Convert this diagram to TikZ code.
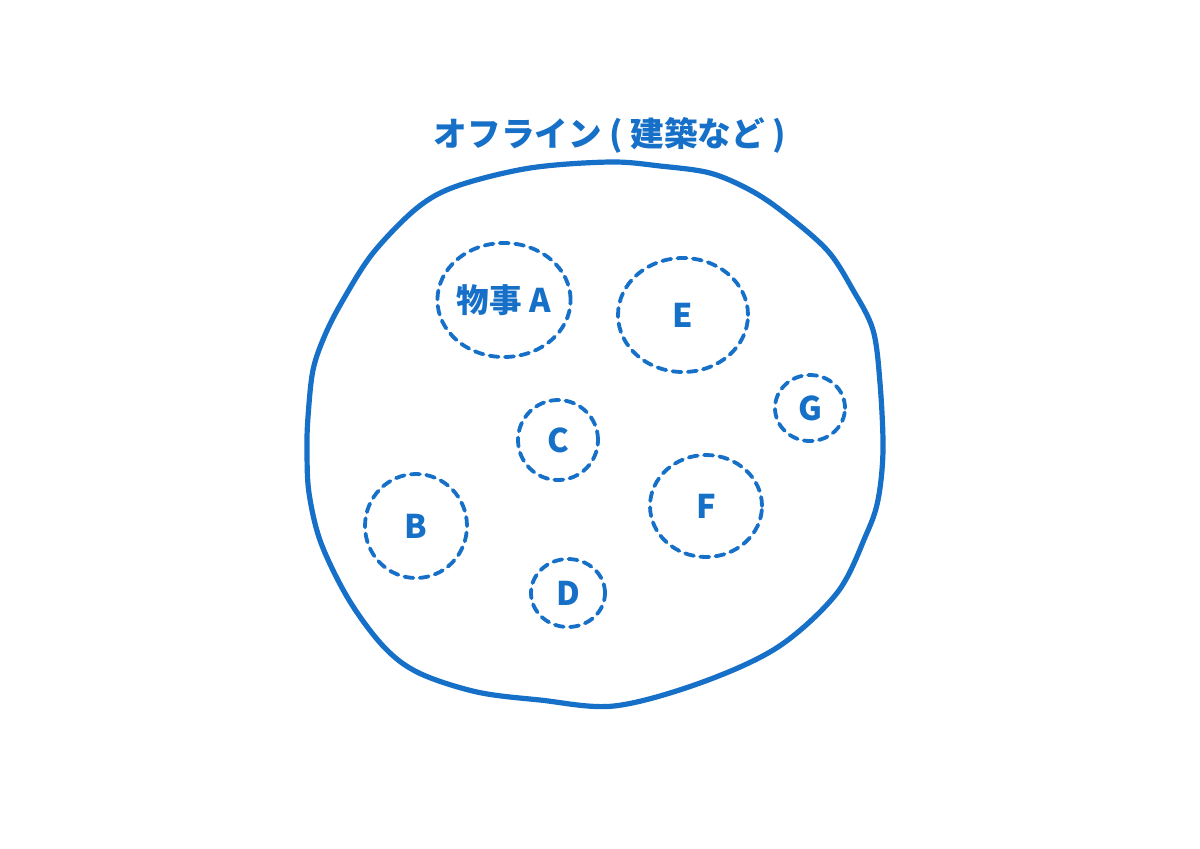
\documentclass[tikz,border=0pt]{standalone}
\usepackage{fontspec}
\setmainfont{Noto Sans CJK JP}
\usetikzlibrary{shapes.geometric}
\definecolor{ink}{RGB}{22,112,200}
\tikzset{
  lbl/.style={text=ink, font=\fontsize{16.8}{19}\selectfont\bfseries, inner sep=0pt},
  bubble/.style={ellipse, draw=ink, line width=1.9pt, dash pattern=on 4.5pt off 3.2pt, line cap=round, inner sep=0pt, text=ink, font=\fontsize{16.3}{18}\selectfont\bfseries},
  outer/.style={draw=ink, line width=2.6pt, line join=round}
}
\begin{document}
\begin{tikzpicture}[x=0.5pt,y=-0.5pt]
\useasboundingbox (0,0) rectangle (1200,848);
\fill[white] (0,0) rectangle (1200,848);
% title
\node[lbl] (title) at (610,135) {オフライン ( 建築など )};
% big outline
\draw[outer] plot[smooth cycle, tension=0.55] coordinates {
 (610,162) (660,166) (710,173) (750,190) (783,212) (827,250) (853,290) (873,330)
 (880,383) (883,450) (878,500) (866,535) (837,593) (778,647) (700,683) (614,706)
 (540,700) (477,692) (419,673) (384,647) (349,600) (321,543) (309,493) (307,450)
 (308,417) (313,370) (325,335) (343,300) (373,253) (417,208) (457,186) (530,168)};
% bubbles
\node[bubble, minimum width=64pt, minimum height=57pt] (A) at (504,300) {物事 A};
\node[bubble, minimum width=65pt, minimum height=57pt] (E) at (683,315) {E};
\node[bubble, minimum width=35pt, minimum height=33pt] (G) at (810,408) {G};
\node[bubble, minimum width=40pt, minimum height=40pt] (C) at (558,440) {C};
\node[bubble, minimum width=56pt, minimum height=51pt] (F) at (706,506) {F};
\node[bubble, minimum width=51pt, minimum height=52pt] (B) at (416,526) {B};
\node[bubble, minimum width=37pt, minimum height=34pt] (D) at (568,593) {D};
\end{tikzpicture}
\end{document}
